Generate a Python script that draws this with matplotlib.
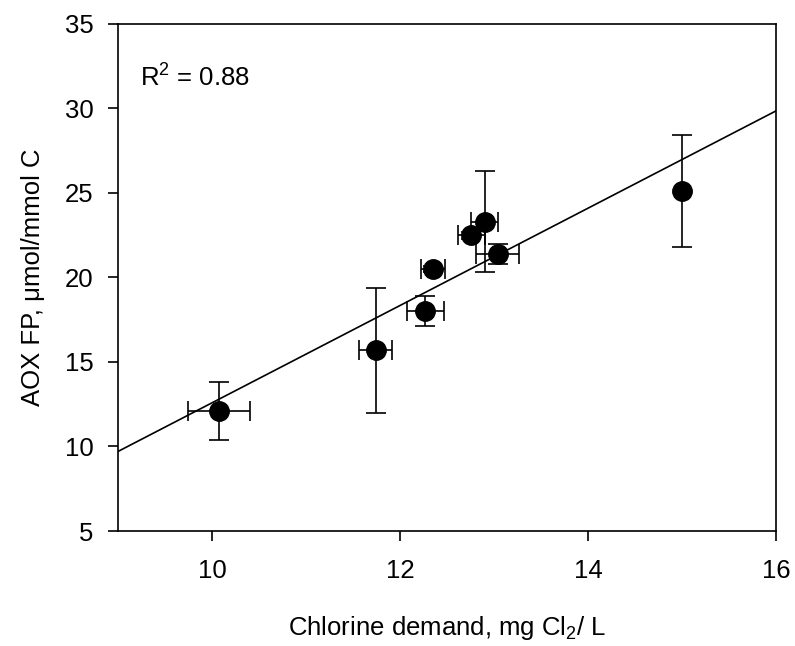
import numpy as np
import matplotlib
matplotlib.use("Agg")
import matplotlib.pyplot as plt

# fonts
plt.rcParams['font.family'] = ['Liberation Sans', 'DejaVu Sans']
plt.rcParams['mathtext.fontset'] = 'custom'
plt.rcParams['mathtext.rm'] = 'Liberation Sans'
plt.rcParams['mathtext.it'] = 'Liberation Sans'
plt.rcParams['mathtext.default'] = 'regular'


# Data
chlorine_demand = [10.07, 11.74, 12.27, 12.35, 12.76, 12.90, 13.04, 15.00]
aox_fp = [12.1, 15.7, 18.0, 20.5, 22.5, 23.3, 21.4, 25.1]
chlorine_err = [0.33, 0.18, 0.20, 0.13, 0.14, 0.14, 0.23, 0.0]
aox_err = [1.7, 3.7, 0.9, 0.2, 0.2, 3.0, 0.6, 3.3]
r_squared = 0.88

x_ticks = [10, 12, 14, 16]
y_ticks = [5, 10, 15, 20, 25, 30, 35]


# Linear fit through the points
slope, intercept = np.polyfit(chlorine_demand, aox_fp, 1)
fit_x = np.array([9, 16])
fit_y = slope * fit_x + intercept


# Plot
fig = plt.figure(figsize=(7.95, 6.46), dpi=100)
ax = fig.add_axes([0.1484, 0.178, 0.8276, 0.785])

ax.plot(fit_x, fit_y, color='black', linewidth=1.2, zorder=1)
ax.errorbar(chlorine_demand, aox_fp, xerr=chlorine_err, yerr=aox_err, fmt='none',
            ecolor='black', elinewidth=1.2, capsize=7.5, capthick=1.2, zorder=2)
ax.plot(chlorine_demand, aox_fp, 'o', color='black', markersize=14, zorder=3)

ax.text(0.033, 0.876, f'R$^2$ = {r_squared:.2f}', transform=ax.transAxes, fontsize=18.5,
        va='baseline', ha='left')

ax.set_xlim(9, 16)
ax.set_ylim(5, 35)
ax.set_xticks(x_ticks)
ax.set_yticks(y_ticks)
ax.tick_params(axis='x', direction='out', length=7.5, width=1.2, labelsize=18.5, pad=13)
ax.tick_params(axis='y', direction='out', length=7.5, width=1.2, labelsize=18.5, pad=10)
for spine in ax.spines.values():
    spine.set_linewidth(1.2)

ax.set_xlabel(r'Chlorine demand, mg Cl$_2$/ L', fontsize=18.5, labelpad=22)
ax.set_ylabel('AOX FP, \u03bcmol/mmol C', fontsize=18.5, labelpad=14)

fig.savefig('out.png', dpi=100)
